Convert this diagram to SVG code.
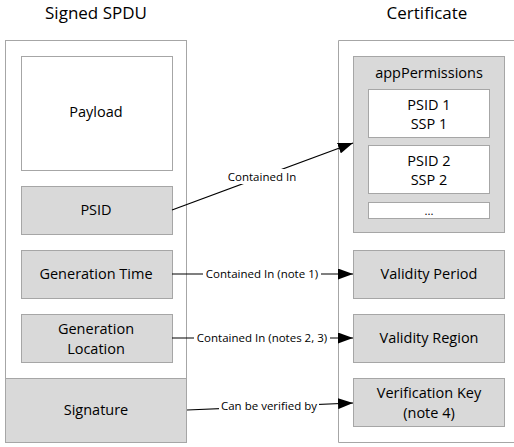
<svg xmlns="http://www.w3.org/2000/svg" width="514" height="447" viewBox="0 0 514 447">
<defs>
<style>
.outer{fill:#fff;stroke:#a6a6a6;stroke-width:1}
.g{fill:#d9d9d9;stroke:#a6a6a6;stroke-width:1}
.w{fill:#fff;stroke:#a6a6a6;stroke-width:1}
text{font-family:"Open Sans","Liberation Sans",sans-serif;fill:#000;text-anchor:middle}
.t{font-size:17px}
.n{font-size:14.5px}
.e{font-size:11.5px}
.c{stroke:#000;stroke-width:1.2;fill:none}
.lb{fill:#fff;stroke:none}
</style>
<marker id="ah" markerWidth="15" markerHeight="11" refX="15" refY="5.5" orient="auto" markerUnits="userSpaceOnUse">
<path d="M0,0 L15,5.5 L0,11 z" fill="#000"/>
</marker>
</defs>
<g id="titles">
<text class="t" x="96" y="19">Signed SPDU</text>
<text class="t" x="427" y="19">Certificate</text>
</g>
<g id="spdu">
<rect class="outer" x="5.5" y="40.5" width="181" height="402"/>
</g>
<g id="certificate">
<path class="outer" d="M514,40.5 H338.5 V442.5 H514"/>
</g>
<g id="payload"><rect class="w" x="21.5" y="56.5" width="151" height="114"/><text class="n" x="96" y="117">Payload</text></g>
<g id="psid"><rect class="g" x="21.5" y="186.5" width="151" height="48"/><text class="n" x="96" y="215">PSID</text></g>
<g id="gentime"><rect class="g" x="21.5" y="250.5" width="151" height="48"/><text class="n" x="96" y="279">Generation Time</text></g>
<g id="genloc"><rect class="g" x="21.5" y="314.5" width="151" height="48"/><text class="n" x="96" y="334">Generation</text><text class="n" x="96" y="354">Location</text></g>
<g id="signature"><rect class="g" x="5.5" y="378.5" width="181" height="64"/><text class="n" x="96" y="415">Signature</text></g>
<g id="appperm"><rect class="g" x="353.5" y="56.5" width="151" height="176"/><text class="n" x="429" y="78">appPermissions</text></g>
<g id="psid1"><rect class="w" x="368.5" y="89.5" width="121" height="48"/><text class="n" x="429" y="110">PSID 1</text><text class="n" x="429" y="129">SSP 1</text></g>
<g id="psid2"><rect class="w" x="368.5" y="145.5" width="121" height="48"/><text class="n" x="429" y="166">PSID 2</text><text class="n" x="429" y="185">SSP 2</text></g>
<g id="more"><rect class="w" x="368.5" y="202.5" width="121" height="16"/><text class="e" x="429" y="215">...</text></g>
<g id="validperiod"><rect class="g" x="353.5" y="250.5" width="151" height="48"/><text class="n" x="429" y="279">Validity Period</text></g>
<g id="validregion"><rect class="g" x="353.5" y="314.5" width="151" height="48"/><text class="n" x="429" y="343">Validity Region</text></g>
<g id="verifkey"><rect class="g" x="353.5" y="378.5" width="151" height="48"/><text class="n" x="429" y="398">Verification Key</text><text class="n" x="429" y="418">(note 4)</text></g>
<g id="connectors">
<line class="c" x1="172" y1="210" x2="353" y2="143" marker-end="url(#ah)"/>
<rect class="lb" x="224" y="169" width="76" height="15"/>
<text class="e" x="262" y="181">Contained In</text>
<line class="c" x1="172" y1="274" x2="353" y2="274" marker-end="url(#ah)"/>
<rect class="lb" x="203" y="266" width="118" height="15"/>
<text class="e" x="262" y="278">Contained In (note 1)</text>
<line class="c" x1="172" y1="338" x2="353" y2="338" marker-end="url(#ah)"/>
<rect class="lb" x="194" y="330" width="136" height="15"/>
<text class="e" x="262" y="342">Contained In (notes 2, 3)</text>
<line class="c" x1="187" y1="410" x2="353" y2="403" marker-end="url(#ah)"/>
<rect class="lb" x="219" y="398" width="100" height="15"/>
<text class="e" x="269" y="410">Can be verified by</text>
</g>
</svg>
